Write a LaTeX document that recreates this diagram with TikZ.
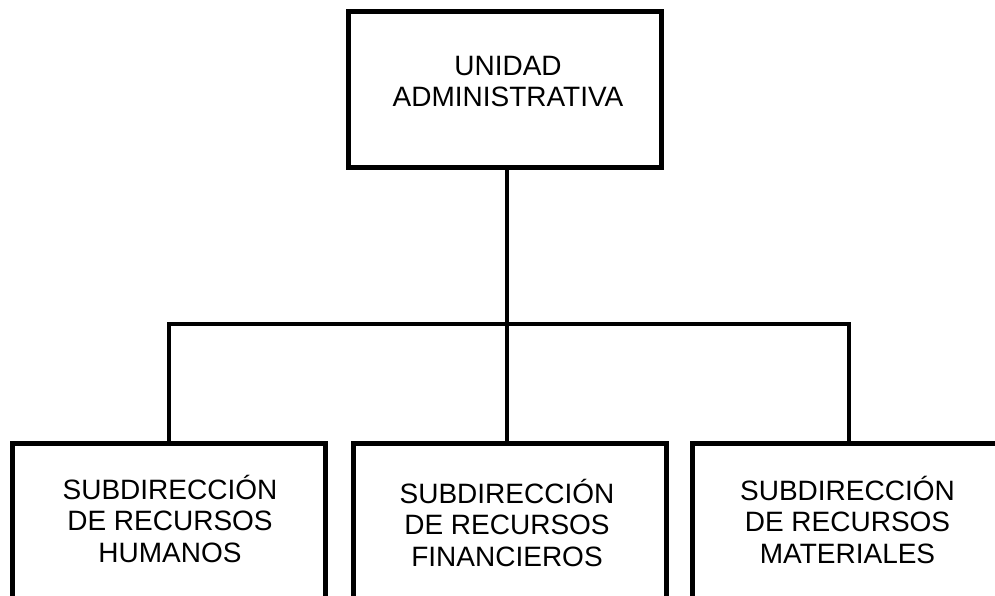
\documentclass[tikz,border=0pt]{standalone}
\usepackage{fontspec}
\setmainfont{Liberation Sans}
\begin{document}
\begin{tikzpicture}[x=1pt,y=-1pt,
  box/.style={draw=black, line width=5pt, fill=white, minimum width=313pt, minimum height=156pt, inner sep=0pt, anchor=north},
  lbl/.style={align=center, inner sep=0pt, anchor=base, font=\fontsize{28}{31.5}\selectfont},
  conn/.style={draw=black, line width=4.5pt}]
\useasboundingbox (0,0) rectangle (995,596);
\clip (0,0) rectangle (995,596);
\fill[white] (0,0) rectangle (995,596);
% boxes
\node[box] (top) at (504.5,9) {};
\node[box, minimum height=170pt] (b1) at (168.75,440.5) {};
\node[box, minimum height=170pt] (b2) at (510,440.5) {};
\node[box, minimum height=170pt] (b3) at (849,440.5) {};
\coordinate (bus) at (507,324);
% connectors
\draw[conn] (top.south -| bus) -- (b2.north -| bus);
\draw[conn] (b1.north) |- (bus) -| (b3.north);
% labels
\node[lbl] (tl) at (508,107) {UNIDAD\\ADMINISTRATIVA};
\node[lbl] (l1) at (170,562) {SUBDIRECCIÓN\\DE RECURSOS\\HUMANOS};
\node[lbl] (l2) at (507,566) {SUBDIRECCIÓN\\DE RECURSOS\\FINANCIEROS};
\node[lbl] (l3) at (847.5,563) {SUBDIRECCIÓN\\DE RECURSOS\\MATERIALES};
\end{tikzpicture}
\end{document}
